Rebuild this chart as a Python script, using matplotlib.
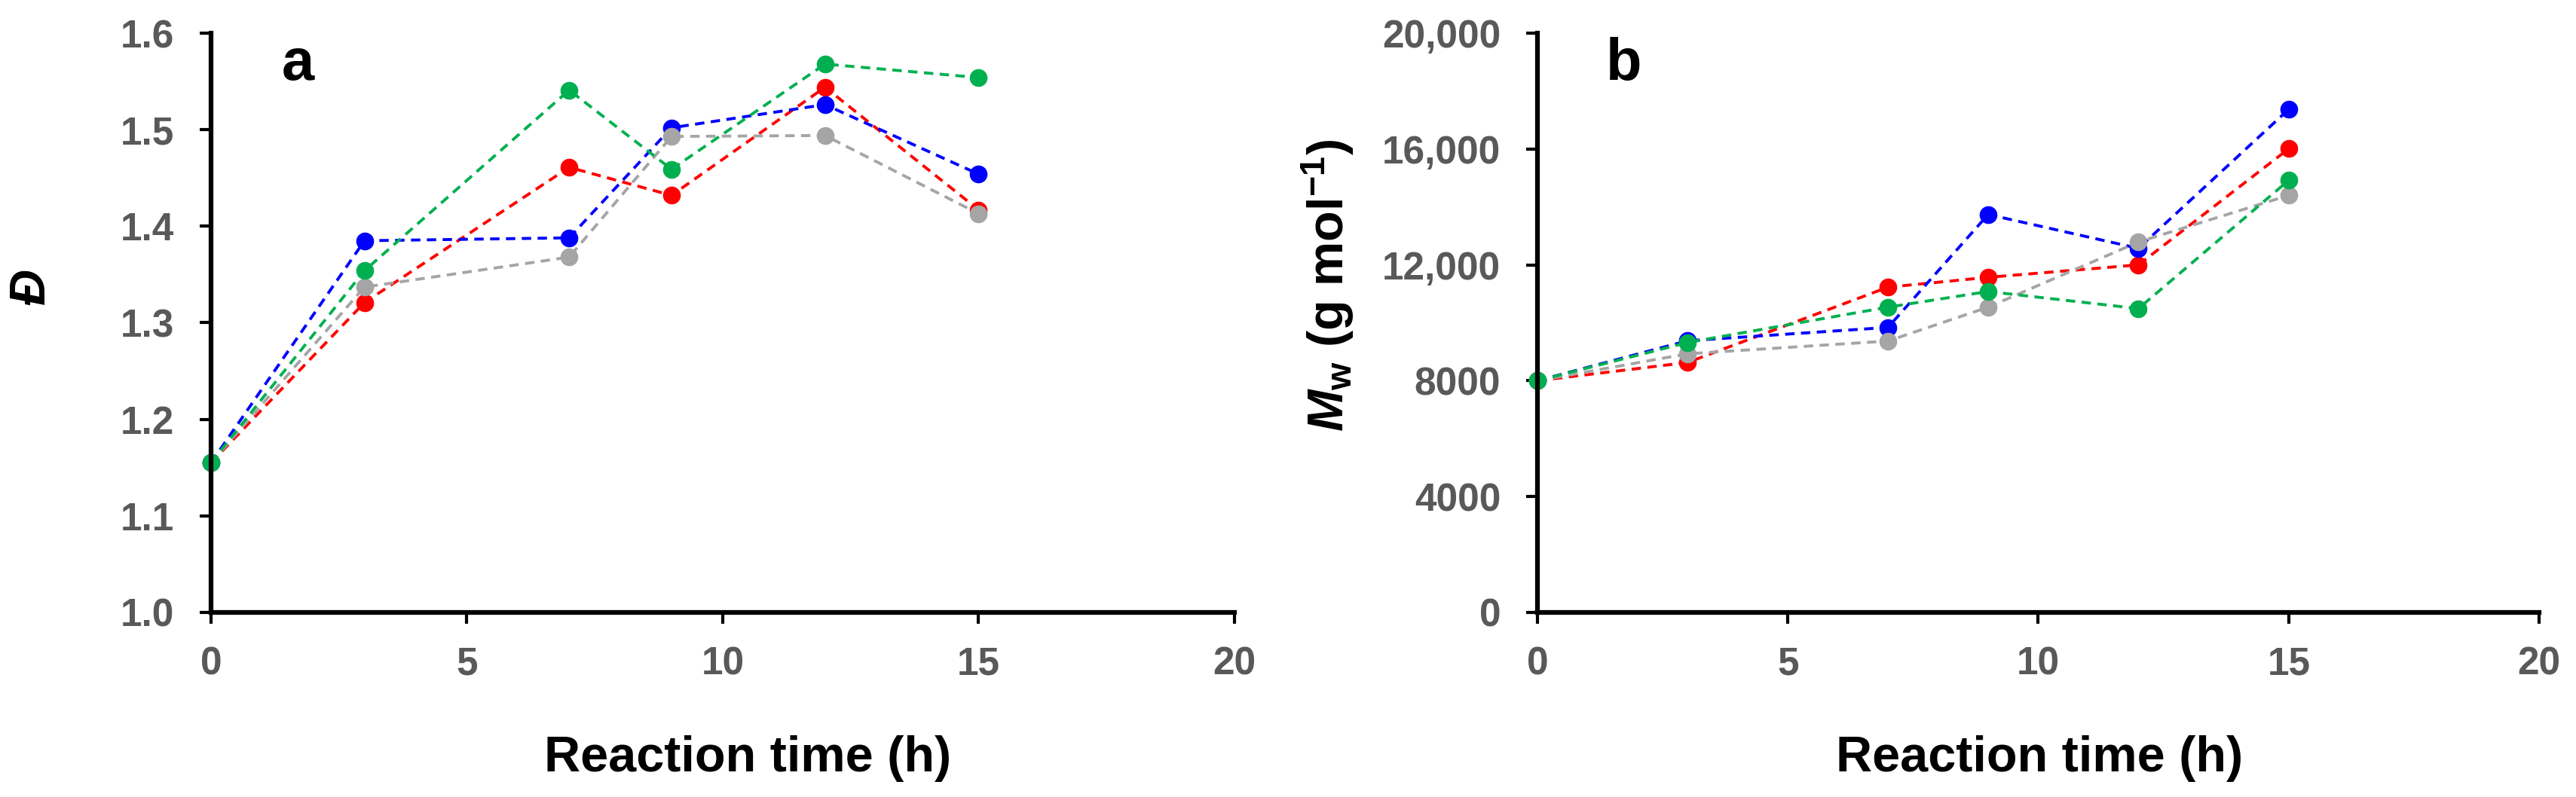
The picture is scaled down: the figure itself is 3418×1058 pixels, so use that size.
import matplotlib

matplotlib.use("Agg")
import matplotlib.pyplot as plt
from matplotlib.ticker import FuncFormatter

plt.rcParams["font.family"] = ["Liberation Sans", "DejaVu Sans"]
plt.rcParams["mathtext.fontset"] = "custom"
plt.rcParams["mathtext.rm"] = "Liberation Sans:bold"
plt.rcParams["mathtext.it"] = "Liberation Sans:italic:bold"
plt.rcParams["mathtext.bf"] = "Liberation Sans:bold"

# reaction time (h)
time_h = [0, 3, 7, 9, 12, 15]

# panel a: dispersity
disp_red = [1.155, 1.321, 1.461, 1.432, 1.544, 1.417]
disp_blue = [1.155, 1.385, 1.388, 1.502, 1.526, 1.454]
disp_gray = [1.155, 1.337, 1.368, 1.493, 1.494, 1.413]
disp_green = [1.155, 1.354, 1.541, 1.459, 1.568, 1.554]

# panel b: Mw (g/mol)
mw_red = [8000, 8630, 11230, 11570, 12000, 16010]
mw_blue = [8000, 9380, 9840, 13740, 12570, 17370]
mw_gray = [8000, 8930, 9370, 10540, 12790, 14400]
mw_green = [8000, 9320, 10540, 11080, 10490, 14920]

colors = {"red": "#FF0000", "blue": "#0000FF", "gray": "#A5A5A5", "green": "#00B050"}
tick_color = "#595959"

fig = plt.figure(figsize=(34.18, 10.58), dpi=100)
ax_a = fig.add_axes([0.0819, 0.2316, 0.3973, 0.7268])
ax_b = fig.add_axes([0.5968, 0.2316, 0.3889, 0.7268])


def style_axis(ax):
    for side in ("top", "right"):
        ax.spines[side].set_visible(False)
    for side in ("left", "bottom"):
        ax.spines[side].set_linewidth(4.5)
    ax.tick_params(direction="out", length=11, width=3, colors="black",
                   labelcolor=tick_color, labelsize=37)
    ax.tick_params(axis="y", pad=24)
    ax.tick_params(axis="x", pad=21)
    for lab in ax.get_xticklabels() + ax.get_yticklabels():
        lab.set_fontweight("bold")
    ax.set_xlim(0, 20)
    ax.set_xticks([0, 5, 10, 15, 20])


def draw(ax, series):
    for name, vals in series:
        ax.plot(time_h, vals, color=colors[name], linestyle=(0, (3.2, 2.2)),
                linewidth=2.8, marker="o", markersize=16, clip_on=False)


draw(ax_a, [("red", disp_red), ("blue", disp_blue), ("gray", disp_gray), ("green", disp_green)])
ax_a.set_ylim(1.0, 1.6)
ax_a.set_yticks([1.0, 1.1, 1.2, 1.3, 1.4, 1.5, 1.6])
ax_a.yaxis.set_major_formatter(FuncFormatter(lambda v, p: f"{v:.1f}"))
style_axis(ax_a)

draw(ax_b, [("red", mw_red), ("blue", mw_blue), ("gray", mw_gray), ("green", mw_green)])
ax_b.set_ylim(0, 20000)
ax_b.set_yticks([0, 4000, 8000, 12000, 16000, 20000])
ax_b.yaxis.set_major_formatter(
    FuncFormatter(lambda v, p: f"{int(v):,}" if v >= 10000 else f"{int(v)}"))
style_axis(ax_b)

# panel letters
ax_a.text(0.085, 0.92, "a", transform=ax_a.transAxes, fontsize=56,
          fontweight="bold", ha="center", va="baseline")
ax_b.text(0.086, 0.92, "b", transform=ax_b.transAxes, fontsize=56,
          fontweight="bold", ha="center", va="baseline")

# axis labels
fig.text(0.0123, 0.64, "\u0110", rotation=90, fontsize=48, fontweight="bold",
         fontstyle="italic", ha="center", va="center")
fig.text(0.5155, 0.642, r"$M_{\mathrm{w}}$ (g mol$^{\mathrm{-1}}$)", rotation=90,
         fontsize=48, fontweight="bold", ha="center", va="center")
fig.text(0.2902, 0.048, "Reaction time (h)", fontsize=48, fontweight="bold",
         ha="center", va="center")
fig.text(0.7917, 0.048, "Reaction time (h)", fontsize=48, fontweight="bold",
         ha="center", va="center")

fig.savefig("out.png", dpi=100)
plt.close(fig)
